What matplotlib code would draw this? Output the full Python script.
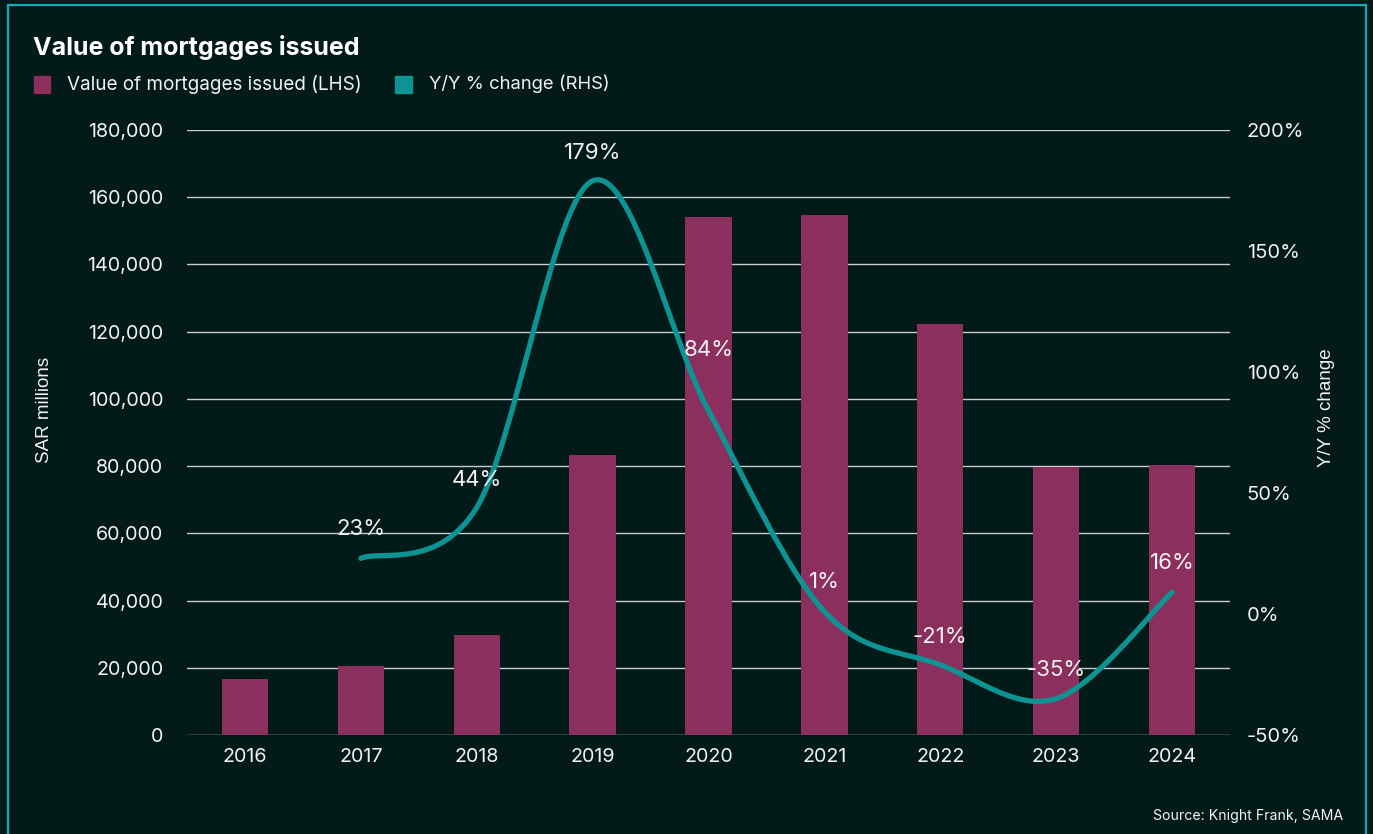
import matplotlib.pyplot as plt
from matplotlib.path import Path
from matplotlib.patches import PathPatch, Rectangle
import numpy as np

plt.rcParams['font.family'] = ['Inter', 'DejaVu Sans']

# data
years = ['2016', '2017', '2018', '2019', '2020', '2021', '2022', '2023', '2024']
mortgages = [16700, 20500, 29800, 83300, 154200, 154800, 122300, 79800, 80400]
yoy = [None, 23, 44, 179, 84, 1, -21, -35, 9]          # line as drawn
yoy_labels = ['', '23%', '44%', '179%', '84%', '1%', '-21%', '-35%', '16%']
left_ticks = [0, 20000, 40000, 60000, 80000, 100000, 120000, 140000, 160000, 180000]
right_ticks = [-50, 0, 50, 100, 150, 200]

BG = '#021a18'
BAR = '#8b2f5e'
LINE = '#0e9393'
GRID = '#c9cdcc'
TXT = '#f2f2f2'

fig = plt.figure(figsize=(13.73, 8.34), dpi=100, facecolor=BG)
ax = fig.add_axes([187 / 1373, 1 - 735 / 834, (1230 - 187) / 1373, (735 - 130) / 834])
ax.set_facecolor(BG)
x = np.arange(len(years))
ax.bar(x, mortgages, width=0.4, color=BAR, zorder=2)
ax.set_xlim(-0.5, len(years) - 0.5)
ax.set_ylim(0, 180000)
ax.set_yticks(left_ticks)
ax.set_yticklabels([f'{v:,}' for v in left_ticks])
ax.set_xticks(x)
ax.set_xticklabels(years)
ax.grid(axis='y', color=GRID, linewidth=1.0, zorder=0)
ax.set_axisbelow(True)
for s in ax.spines.values():
    s.set_visible(False)
ax.tick_params(axis='both', length=0, colors=TXT, labelsize=14.2)
ax.tick_params(axis='y', pad=17)
ax.tick_params(axis='x', pad=9)
ax.set_ylabel('SAR millions', color=TXT, fontsize=13.5, family=['Liberation Sans'])
ax.yaxis.set_label_coords(-(187 - 53) / 1043, (735 - 410) / 605)

ax2 = ax.twinx()
ax2.set_ylim(-50, 200)
ax2.set_yticks(right_ticks)
ax2.set_yticklabels([f'{v}%' for v in right_ticks])
ax2.tick_params(axis='y', length=0, colors=TXT, labelsize=14.5, pad=12)
for s in ax2.spines.values():
    s.set_visible(False)
ax2.set_ylabel('Y/Y % change', color=TXT, fontsize=13.5, family=['Liberation Sans'], rotation=90)
ax2.yaxis.set_label_coords(1 + 88 / 1043, (735 - 408) / 605)

# smoothed line (bezier through the points)
pts = [(i, v) for i, v in enumerate(yoy) if v is not None]
P = np.array(pts, dtype=float)
verts = [tuple(P[0])]
codes = [Path.MOVETO]
n = len(P)
for i in range(n - 1):
    p0 = P[max(i - 1, 0)]
    p1 = P[i]
    p2 = P[i + 1]
    p3 = P[min(i + 2, n - 1)]
    c1 = p1 + (p2 - p0) / 6
    c2 = p2 - (p3 - p1) / 6
    verts += [tuple(c1), tuple(c2), tuple(p2)]
    codes += [Path.CURVE4] * 3
ax2.add_patch(PathPatch(Path(verts, codes), facecolor='none', edgecolor=LINE,
                        linewidth=3.8, capstyle='round', zorder=3))

offsets = [0, 21, 20, 20, 44, 21, 20, 21, 21]
for i, lab in enumerate(yoy_labels):
    if lab:
        ax2.annotate(lab, (i, yoy[i]), xytext=(0, offsets[i]), textcoords='offset points',
                     ha='center', va='center', color=TXT, fontsize=16, zorder=4)

# title, legend, source
fig.text(33 / 1373, 1 - 47 / 834, 'Value of mortgages issued', color='white',
         fontsize=18, fontweight='bold', va='center', ha='left')
fig.patches.append(Rectangle((34 / 1373, 1 - 93 / 834), 16 / 1373, 17 / 834,
                             transform=fig.transFigure, color=BAR))
fig.text(67 / 1373, 1 - 84 / 834, 'Value of mortgages issued (LHS)', color=TXT,
         fontsize=13.6, va='center', ha='left')
fig.patches.append(Rectangle((395 / 1373, 1 - 93 / 834), 17 / 1373, 17 / 834,
                             transform=fig.transFigure, color=LINE))
fig.text(429 / 1373, 1 - 84 / 834, 'Y/Y % change (RHS)', color=TXT,
         fontsize=13.3, va='center', ha='left')
fig.text(1343 / 1373, 1 - 816 / 834, 'Source: Knight Frank, SAMA', color=TXT,
         fontsize=10.2, va='center', ha='right')

# frame
fig.patches.append(Rectangle((8 / 1373, -0.05), 1358 / 1373, 1.05 - 5 / 834,
                             transform=fig.transFigure, fill=False,
                             edgecolor='#1aa6b5', linewidth=1.6))

fig.savefig('out.png', dpi=100, facecolor=BG)
